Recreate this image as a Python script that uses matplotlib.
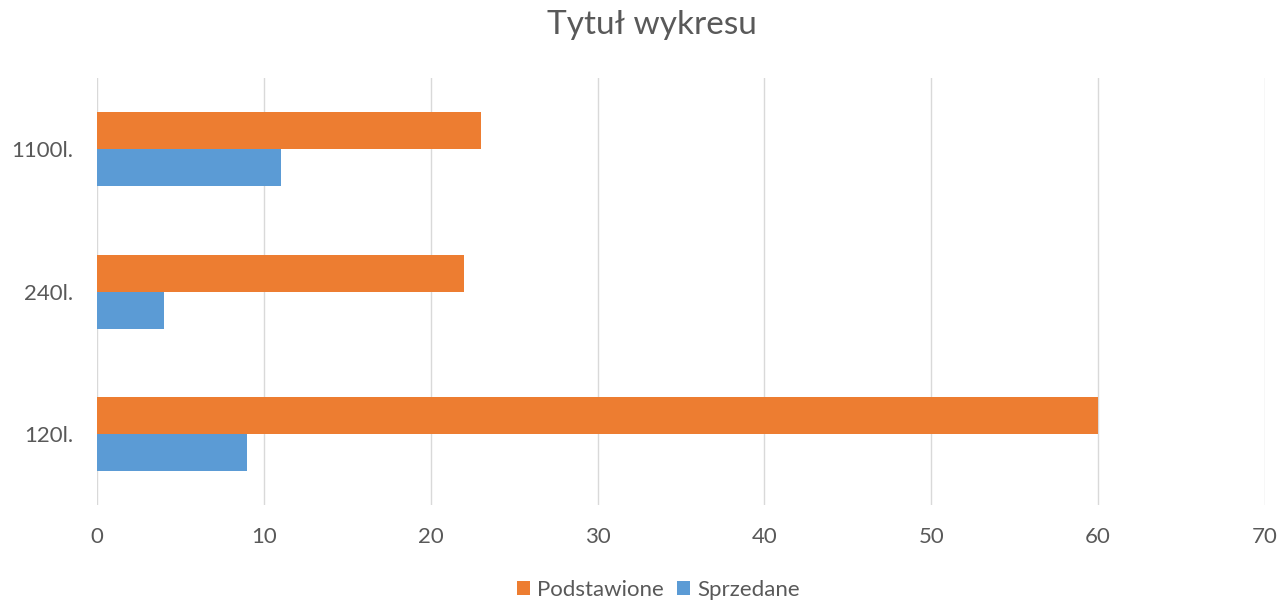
import matplotlib.pyplot as plt
import numpy as np

plt.rcParams['font.family'] = ['Lato', 'DejaVu Sans']

# dane
categories = ['120l.', '240l.', '1100l.']
podstawione = [60, 22, 23]
sprzedane = [9, 4, 11]
x_ticks = [0, 10, 20, 30, 40, 50, 60, 70]

orange = '#ED7D31'
blue = '#5B9BD5'
text_col = '#595959'

fig = plt.figure(figsize=(12.81, 6.01), dpi=100)
ax = fig.add_axes([0.0757, 0.1597, 0.9118, 0.7103])

y = np.arange(len(categories))
h = 0.26
ax.barh(y + h / 2, podstawione, height=h, color=orange, label='Podstawione', zorder=3)
ax.barh(y - h / 2, sprzedane, height=h, color=blue, label='Sprzedane', zorder=3)

ax.set_xlim(0, 70)
ax.set_ylim(-0.5, 2.5)
ax.set_xticks(x_ticks)
ax.set_yticks(y)
ax.set_yticklabels(categories)
ax.grid(axis='x', color='#D9D9D9', linewidth=1, zorder=0)
ax.tick_params(length=0, labelsize=16, labelcolor=text_col)
ax.tick_params(axis='x', pad=16)
ax.tick_params(axis='y', pad=17)
for s in ax.spines.values():
    s.set_visible(False)

fig.text(0.509, 0.958, 'Tytuł wykresu', ha='center', va='center', fontsize=24, color=text_col)

fig.legend(loc='center', bbox_to_anchor=(0.514, 0.018), ncol=2, frameon=False,
           fontsize=16, labelcolor=text_col, handlelength=0.6, handleheight=0.6,
           handletextpad=0.3, columnspacing=0.6)

fig.savefig('out.png', dpi=100)
